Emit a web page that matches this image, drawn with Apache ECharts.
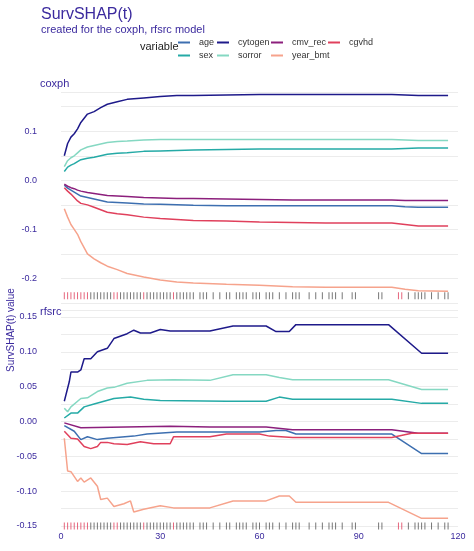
<!DOCTYPE html>
<html>
<head>
<meta charset="utf-8">
<script src="https://cdn.jsdelivr.net/npm/echarts@6/dist/echarts.min.js"></script>
<style>html,body{margin:0;padding:0;background:#fff}#chart{width:474px;height:551px}</style>
</head>
<body>
<div id="chart"></div>
<script>
// 变量名与颜色
var variables = ['age','cytogen','cmv_rec','cgvhd','sex','sorror','year_bmt'];
var colors = {
    age: '#3d6fb0', cytogen: '#1e1a8a', cmv_rec: '#8c1f7c', cgvhd: '#e0405c',
    sex: '#25aaa6', sorror: '#85d8c2', year_bmt: '#f6a38c'
};

// coxph
var coxTime = [1,2,3,4,5,6,8,10,12,14,17,20,25,30,35,40,50,60,70,80,90,100,104,108,117];
var coxVals = {
    cytogen:  [0.050,0.075,0.088,0.095,0.105,0.118,0.135,0.140,0.148,0.155,0.160,0.165,0.168,0.171,0.173,0.173,0.174,0.175,0.175,0.175,0.175,0.175,0.174,0.173,0.173],
    sorror:   [0.028,0.040,0.046,0.050,0.056,0.062,0.068,0.071,0.074,0.077,0.079,0.080,0.082,0.083,0.083,0.083,0.083,0.083,0.083,0.083,0.083,0.083,0.082,0.081,0.081],
    sex:      [0.018,0.027,0.031,0.034,0.038,0.042,0.045,0.047,0.050,0.053,0.055,0.056,0.059,0.060,0.061,0.062,0.063,0.064,0.064,0.064,0.064,0.064,0.065,0.066,0.066],
    cmv_rec:  [-0.008,-0.012,-0.015,-0.017,-0.020,-0.022,-0.025,-0.027,-0.029,-0.031,-0.032,-0.033,-0.035,-0.036,-0.037,-0.037,-0.038,-0.039,-0.040,-0.040,-0.040,-0.040,-0.041,-0.041,-0.041],
    age:      [-0.010,-0.016,-0.020,-0.024,-0.028,-0.032,-0.035,-0.038,-0.041,-0.044,-0.045,-0.046,-0.048,-0.049,-0.050,-0.051,-0.052,-0.052,-0.052,-0.052,-0.052,-0.052,-0.054,-0.055,-0.055],
    cgvhd:    [-0.015,-0.022,-0.028,-0.035,-0.042,-0.047,-0.050,-0.055,-0.060,-0.065,-0.068,-0.070,-0.075,-0.078,-0.080,-0.082,-0.083,-0.085,-0.086,-0.087,-0.087,-0.087,-0.090,-0.093,-0.093],
    year_bmt: [-0.058,-0.075,-0.090,-0.100,-0.110,-0.125,-0.150,-0.160,-0.168,-0.175,-0.182,-0.190,-0.197,-0.203,-0.207,-0.209,-0.212,-0.214,-0.217,-0.218,-0.218,-0.218,-0.222,-0.225,-0.226]
};

// rfsrc
var rfTime = {
    cytogen:  [1,2.5,3,5,6,7,9,11,14,16,20,22,24,27,30,33,45,52,62,65,69,71,99,109,117],
    sorror:   [1,2,3,6,8,11,14,16,20,26,34,45,52,62,66,70,99,109,117],
    sex:      [1,3,5,7,10,13,16,21,25,30,50,62,66,70,100,109,117],
    cmv_rec:  [1,6,33,45,62,70,100,108,117],
    age:      [1,4,6,8,11,14,22,26,35,60,65,68,71,100,109,117],
    cgvhd:    [1,3,5,7,9,11,12,14,16,20,24,28,33,34,45,50,60,63,70,100,106,117],
    year_bmt: [1,2,3,5,6,7,9,11,12,14,16,19,21,22,25,30,34,45,52,62,66,69,71,99,109,117]
};
var rfVals = {
    cytogen:  [0.029,0.057,0.071,0.071,0.074,0.090,0.090,0.100,0.105,0.119,0.126,0.131,0.127,0.127,0.132,0.130,0.130,0.137,0.137,0.129,0.129,0.139,0.139,0.098,0.098],
    sorror:   [0.019,0.014,0.021,0.033,0.034,0.043,0.048,0.049,0.055,0.059,0.060,0.059,0.067,0.067,0.063,0.060,0.060,0.046,0.046],
    sex:      [0.005,0.012,0.012,0.021,0.025,0.029,0.033,0.035,0.032,0.030,0.029,0.029,0.035,0.032,0.032,0.026,0.026],
    cmv_rec:  [-0.002,-0.009,-0.007,-0.008,-0.008,-0.012,-0.012,-0.017,-0.017],
    age:      [-0.006,-0.014,-0.026,-0.022,-0.026,-0.024,-0.021,-0.018,-0.015,-0.015,-0.013,-0.013,-0.018,-0.018,-0.046,-0.046],
    cgvhd:    [-0.014,-0.024,-0.025,-0.036,-0.039,-0.036,-0.030,-0.030,-0.032,-0.033,-0.029,-0.032,-0.032,-0.022,-0.022,-0.018,-0.018,-0.021,-0.023,-0.023,-0.017,-0.017],
    year_bmt: [-0.024,-0.071,-0.072,-0.086,-0.081,-0.087,-0.081,-0.093,-0.112,-0.110,-0.122,-0.118,-0.114,-0.130,-0.126,-0.121,-0.124,-0.124,-0.114,-0.114,-0.107,-0.107,-0.116,-0.116,-0.139,-0.139]
};

// 事件时间 (rug)
var rugGrey = [9,10,11,12,13,14,15,18,19,20,21,22,23,24,26,27,28,29,30,31,32,33,35,36,37,38,39,40,42,43,44,46,48,50,51,53,54,55,56,58,59,60,62,63,64,66,68,70,71,72,75,77,79,81,82,83,85,88,89,96,97,105,107,108,109,110,112,114,116,117];
var rugRed = [1,2,3,4,5,6,7,8,16,17,25,34,102,103];

var textColor = '#3b2a9e';
var myChart = echarts.init(document.getElementById('chart'));

function zip(t, v) { return t.map(function (x, i) { return [x, v[i]]; }); }
function rug(times, y) { return times.map(function (t) { return [t, y]; }); }

var series = [];
variables.forEach(function (name) {
    series.push({ name: name, type: 'line', xAxisIndex: 0, yAxisIndex: 0, data: zip(coxTime, coxVals[name]),
        showSymbol: false, lineStyle: { width: 1.5, color: colors[name] }, itemStyle: { color: colors[name] } });
    series.push({ name: name, type: 'line', xAxisIndex: 1, yAxisIndex: 1, data: zip(rfTime[name], rfVals[name]),
        showSymbol: false, lineStyle: { width: 1.5, color: colors[name] }, itemStyle: { color: colors[name] } });
});
[[0, -0.235], [1, -0.15]].forEach(function (p) {
    series.push({ type: 'scatter', xAxisIndex: p[0], yAxisIndex: p[0], data: rug(rugGrey, p[1]),
        symbol: 'rect', symbolSize: [1, 7], itemStyle: { color: '#555' }, silent: true });
    series.push({ type: 'scatter', xAxisIndex: p[0], yAxisIndex: p[0], data: rug(rugRed, p[1]),
        symbol: 'rect', symbolSize: [1, 7], itemStyle: { color: '#e0405c' }, silent: true });
});

function legend(left, names) {
    return { left: left, top: 33, orient: 'vertical', itemGap: 4, itemWidth: 12, itemHeight: 2,
        icon: 'rect', data: names, selectedMode: false,
        textStyle: { fontSize: 9, color: '#333', padding: [0, 0, 0, 4] } };
}

var ySplit = { show: true, lineStyle: { color: '#ececec', width: 1 } };

option = {
    animation: false,
    textStyle: { fontFamily: 'Liberation Sans, Arial, sans-serif' },
    title: {
        text: 'SurvSHAP(t)', subtext: 'created for the coxph, rfsrc model',
        left: 36, top: 2, itemGap: 1,
        textStyle: { fontSize: 16, fontWeight: 'normal', color: textColor },
        subtextStyle: { fontSize: 11, color: textColor }
    },
    legend: [
        legend(173, ['age', 'sex']),
        legend(212, ['cytogen', 'sorror']),
        legend(266, ['cmv_rec', 'year_bmt']),
        legend(323, ['cgvhd'])
    ],
    graphic: [
        { type: 'text', left: 140, top: 41, style: { text: 'variable', fontSize: 11, fill: '#222' } },
        { type: 'text', left: 40, top: 78, style: { text: 'coxph', fontSize: 11, fill: textColor } },
        { type: 'text', left: 40, top: 306, style: { text: 'rfsrc', fontSize: 11, fill: textColor } },
        { type: 'text', x: 6, y: 372, rotation: Math.PI / 2,
          style: { text: 'SurvSHAP(t) value', fontSize: 10, fill: textColor } }
    ],
    grid: [
        { left: 61, right: 16, top: 92, height: 211 },
        { left: 61, right: 16, top: 310, height: 216 }
    ],
    xAxis: [
        { gridIndex: 0, type: 'value', min: 0, max: 120, interval: 30, show: true,
          axisLine: { show: false }, axisTick: { show: false }, axisLabel: { show: false }, splitLine: { show: false } },
        { gridIndex: 1, type: 'value', min: 0, max: 120, interval: 30,
          axisLine: { show: false }, axisTick: { show: false }, splitLine: { show: false },
          axisLabel: { color: textColor, fontSize: 9, margin: 6 } }
    ],
    yAxis: [
        { gridIndex: 0, type: 'value', min: -0.25, max: 0.18, interval: 0.05,
          axisLine: { show: false }, axisTick: { show: false }, splitLine: ySplit,
          axisLabel: { color: textColor, fontSize: 9, margin: 24, showMaxLabel: false,
              formatter: function (v) { var r = Math.round(v * 100); return r % 10 === 0 ? (r / 100).toFixed(1) : ''; } } },
        { gridIndex: 1, type: 'value', min: -0.15, max: 0.16, interval: 0.025,
          axisLine: { show: false }, axisTick: { show: false }, splitLine: ySplit,
          axisLabel: { color: textColor, fontSize: 9, margin: 24, showMaxLabel: false,
              formatter: function (v) { var r = Math.round(v * 1000); return r % 50 === 0 ? (r / 1000).toFixed(2) : ''; } } }
    ],
    series: series
};
myChart.setOption(option);
</script>
</body>
</html>
